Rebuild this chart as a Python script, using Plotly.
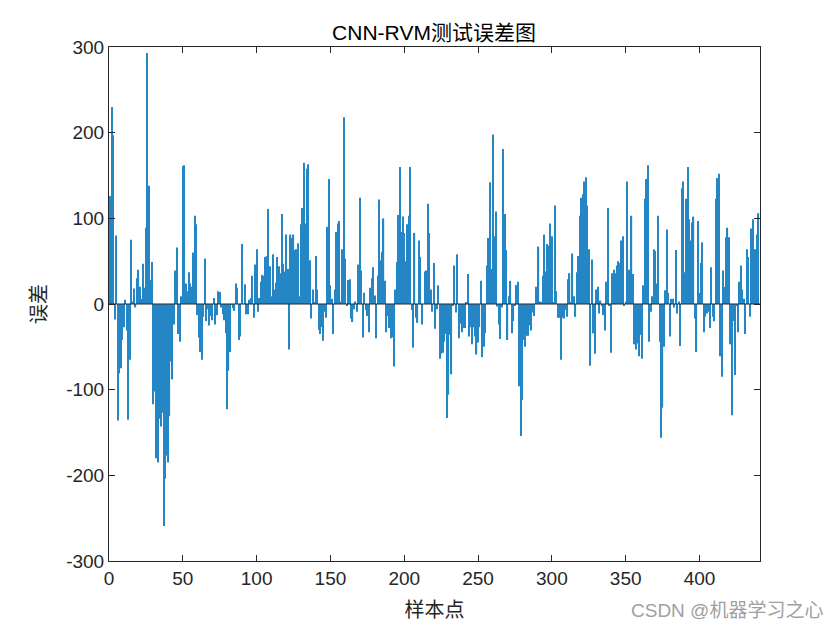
import plotly.graph_objects as go

# test error for each sample point
errors_1 = [126, 230, 197, -18, 80, -136, -81, -75, -42, -27,
            5, -31, -135, -65, 75, 3, 18, -4, 30, 40,
            20, 6, 47, 19, 89, 293, 138, 28, 49, -117,
            -102, -180, -185, -134, -143, -127, -259, -204, -177, -185,
            -131, -67, -88, -24, 39, 66, -35, -44, 9, 161,
            162, 24, 15, 37, 24]
errors_2 = [20, 60, 103, 93, -13, -39, -56, -65, -15, 53,
            -20, -6, -25, -14, -19, 7, -24, -13, 15, 14,
            -4, -12, -19, -34, -123, -78, -56, -1, -5, -8,
            24, 19, -42, -38, 70, 0, 23, -12, -12, 5,
            7, 33, -16, 46, 64, -9, 7, 26, 34, 33,
            55, 56, 111, 44, 9, 58]
errors_3 = [17, 25, 55, 44, 36, 105, 47, 38, 81, 41,
            -53, 81, 77, 81, 63, 64, 71, 9, 93, 112,
            165, 94, 158, 163, 51, -17, 17, 2, 56, 17,
            -30, -35, -27, -43, -9, -16, 90, 146, 22, 6,
            -35, 17, 84, 94, 97, 3, 64, 218, 53, -2,
            28, 29, -17, -21, -6, 3]
errors_4 = [-9, 46, 124, 39, -39, 13, -7, -14, -33, 19,
            30, 43, 10, -40, 33, 122, 51, 61, 100, 27,
            -33, -14, -28, -40, -39, -73, 17, 49, 104, 160,
            84, 102, 83, 50, 93, 103, 160, -7, -51, 83,
            -16, -22, 74, 55, -24, 0, 38, 39, 117, 83,
            17, -9, 48, -29, -6, 22]
errors_5 = [-64, -58, -57, -44, -35, -133, -106, -36, -82, -2,
            45, -10, 58, -40, -23, -33, -28, -28, 2, 35,
            -38, -27, -47, -27, -38, -59, -45, -27, 27, -62,
            -50, -34, 45, 77, 142, 41, 198, 79, 108, -3,
            -24, -41, -4, 181, 105, 63, -42, 9, 27, -34,
            -20, -2, 22, 26, -96]
errors_6 = [-154, -112, -42, -50, -37, -37, -25, -31, -10, -14,
            20, 4, 67, 3, 2, 33, 81, 38, 70, 68,
            94, 79, 2, 115, 15, -16, -16, -65, -16, -17,
            -7, -15, 29, 36, 2, 59, 9, -15, 37, 56,
            103, 124, 128, 143, 148, 115, 64, -72, 52, -34,
            -58, 17, 20, -11, 4, -2]
errors_7 = [-13, -31, 26, 112, -2, -57, 36, 40, 36, 45,
            50, 48, 74, 79, -2, 3, 143, 40, 40, 103,
            35, -47, -53, -46, -61, -36, -64, 22, 123, 146,
            162, -44, -9, 9, 64, 62, 24, 103, -44, -156,
            -121, -50, 16, 87, 13, -38, 6, 6, -4, 63,
            -11, 3]
errors_8 = [-49, 135, 143, 37, 123, 160, 99, 74, 95, 102,
            -17, -56, 97, 13, 48, 72, -33, -15, -11, -9,
            -28, 43, -15, -20, 123, 147, 152, -61, -85, 39,
            20, 78, 89, 78, -47, -130, -20, -83, -2, -33,
            26, 45, 17, 6, -35, 64, 55, -15, 88, 99,
            61, 64, 81, 106]

errors = (errors_1 + errors_2 + errors_3 + errors_4 +
          errors_5 + errors_6 + errors_7 + errors_8)
samples = list(range(1, len(errors) + 1))

x_ticks = [0, 50, 100, 150, 200, 250, 300, 350, 400]
y_ticks = [-300, -200, -100, 0, 100, 200, 300]
y_tick_text = ['-300', '-200', '-100', '0', '100', '200', '300']

FONT = 'Liberation Sans, Arial, Noto Sans CJK SC, sans-serif'
AXIS_COLOR = '#262626'

fig = go.Figure()

fig.add_trace(go.Bar(
    x=samples,
    y=errors,
    marker=dict(color='#0072BD', line=dict(width=0)),
    opacity=0.85,
    width=0.8,
    showlegend=False
))

# bar baseline
fig.add_shape(type='line', xref='x domain', yref='y',
              x0=0, x1=1, y0=0, y1=0,
              line=dict(color=AXIS_COLOR, width=1), layer='above')

axis_style = dict(
    showline=True, linecolor=AXIS_COLOR, linewidth=1, mirror='ticks',
    ticks='inside', ticklen=6, tickcolor=AXIS_COLOR,
    showgrid=False, zeroline=False,
    tickfont=dict(family=FONT, size=19, color=AXIS_COLOR),
)

fig.update_layout(
    width=840, height=630,
    paper_bgcolor='white', plot_bgcolor='white',
    margin=dict(l=101, r=88, t=39, b=77),
    bargap=0.2,
    title=dict(text='CNN-RVM测试误差图', x=(434 - 8) / 840, xanchor='center',
               y=1 - 25 / 630, yanchor='middle',
               font=dict(family=FONT, size=21, color='black')),
    xaxis=dict(range=[0, 441], tickvals=x_ticks,
               title=dict(text='样本点', standoff=15,
                          font=dict(family=FONT, size=20, color=AXIS_COLOR)),
               **axis_style),
    yaxis=dict(range=[-300, 300], tickvals=y_ticks, ticktext=y_tick_text,
               title=dict(text='误差', standoff=14,
                          font=dict(family=FONT, size=20, color=AXIS_COLOR)),
               **axis_style),
    annotations=[dict(text='CSDN @机器学习之心', xref='paper', yref='paper',
                      x=(825 - 109) / 651, y=-49 / 514, xanchor='right', yanchor='middle',
                      showarrow=False,
                      font=dict(family=FONT, size=19, color='#a0a0a0'))],
)

fig.write_html('out.html')
